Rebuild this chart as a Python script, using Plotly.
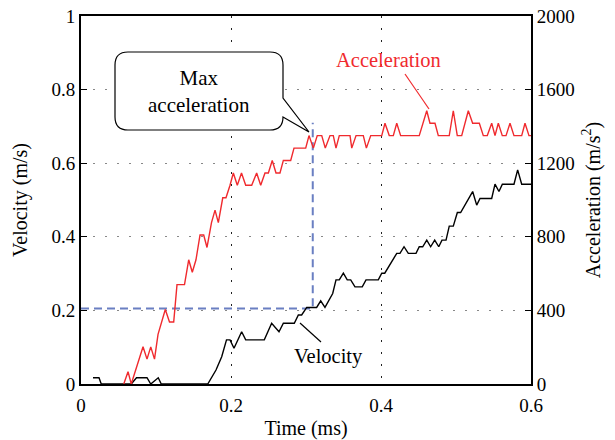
import plotly.graph_objects as go

# ---------------- data ----------------
acc_time = [0.057, 0.0627, 0.067, 0.078, 0.0827, 0.088, 0.093, 0.098, 0.1027, 0.1124, 0.118, 0.1236,
            0.128, 0.138, 0.1436, 0.1484, 0.1533, 0.1587, 0.1636, 0.168, 0.174, 0.1787, 0.1831, 0.189,
            0.1933, 0.1987, 0.2031, 0.2084, 0.214, 0.2196, 0.2276, 0.2342, 0.2396, 0.2453, 0.2498, 0.255,
            0.26, 0.2653, 0.2698, 0.2796, 0.284, 0.2996, 0.304, 0.3098, 0.315, 0.321, 0.3257, 0.332,
            0.3364, 0.34, 0.3444, 0.3587, 0.361, 0.3667, 0.3764, 0.3805, 0.3863, 0.401, 0.4053, 0.411,
            0.4164, 0.421, 0.4262, 0.451, 0.461, 0.4653, 0.472, 0.4764, 0.491, 0.4964, 0.5017, 0.5076,
            0.5164, 0.5222, 0.5311, 0.5364, 0.5417, 0.5476, 0.552, 0.5564, 0.5617, 0.5667, 0.572, 0.5773,
            0.5876, 0.592, 0.5973, 0.6]
acc_vals = [0, 67, 0, 135, 202, 135, 202, 135, 270, 405, 337, 337,
            540, 540, 675, 607, 675, 810, 810, 742, 877, 945, 877, 1012,
            1012, 1080, 1147, 1080, 1147, 1080, 1080, 1147, 1080, 1147, 1147, 1215,
            1147, 1147, 1215, 1215, 1282, 1282, 1350, 1282, 1350, 1350, 1282, 1350,
            1350, 1282, 1350, 1350, 1282, 1350, 1350, 1282, 1350, 1350, 1417, 1350,
            1350, 1417, 1350, 1350, 1485, 1417, 1417, 1350, 1350, 1485, 1350, 1350,
            1485, 1417, 1417, 1350, 1350, 1417, 1350, 1417, 1350, 1350, 1417, 1350,
            1350, 1417, 1350, 1350]

vel_time = [0.016, 0.024, 0.027, 0.067, 0.074, 0.088, 0.093, 0.103, 0.107, 0.169, 0.18, 0.1876,
            0.194, 0.1987, 0.204, 0.2142, 0.2196, 0.2444, 0.2542, 0.264, 0.2698, 0.2844, 0.2898, 0.2942,
            0.301, 0.3142, 0.3196, 0.3253, 0.3356, 0.340, 0.3444, 0.3498, 0.355, 0.3596, 0.3653, 0.375,
            0.380, 0.3964, 0.401, 0.405, 0.421, 0.4253, 0.4307, 0.4364, 0.4467, 0.451, 0.4556, 0.461,
            0.4662, 0.4716, 0.477, 0.4813, 0.4867, 0.491, 0.4964, 0.5018, 0.5062, 0.5222, 0.5276, 0.532,
            0.5476, 0.552, 0.5573, 0.5618, 0.5773, 0.5822, 0.5876, 0.6]
vel_vals = [0.017, 0.017, 0, 0, 0.017, 0.017, 0, 0.017, 0, 0, 0.038, 0.074,
            0.12, 0.12, 0.097, 0.142, 0.12, 0.12, 0.165, 0.142, 0.165, 0.165, 0.1875, 0.1875,
            0.208, 0.208, 0.226, 0.208, 0.246, 0.283, 0.283, 0.301, 0.283, 0.283, 0.264, 0.264,
            0.283, 0.283, 0.301, 0.301, 0.355, 0.355, 0.373, 0.355, 0.355, 0.373, 0.373, 0.391,
            0.373, 0.391, 0.373, 0.391, 0.391, 0.429, 0.429, 0.466, 0.466, 0.523, 0.486, 0.504,
            0.504, 0.543, 0.523, 0.543, 0.543, 0.582, 0.543, 0.543]

max_acc_time = 0.309      # time of max acceleration marker (ms)
max_acc_vel = 0.205       # velocity at that time (m/s)
marker_top_vel = 0.71     # top of vertical dashed marker

x_ticks = [0, 0.2, 0.4, 0.6]
x_tick_labels = ["0", "0.2", "0.4", "0.6"]
v_ticks = [0, 0.2, 0.4, 0.6, 0.8, 1.0]
v_tick_labels = ["0", "0.2", "0.4", "0.6", "0.8", "1"]
a_ticks = [0, 400, 800, 1200, 1600, 2000]
a_tick_labels = ["0", "400", "800", "1200", "1600", "2000"]

# ---------------- layout geometry ----------------
W, H = 615, 440
ML, MR, MT, MB = 81, 84, 16, 56
PW = W - ML - MR
PH = H - MT - MB
X_RANGE = [0, 0.6]
V_RANGE = [0, 1]
A_RANGE = [0, 2000]


def tx(px):
    return X_RANGE[0] + (px - ML) / PW * (X_RANGE[1] - X_RANGE[0])


def vy(py):
    return V_RANGE[0] + (MT + PH - py) / PH * (V_RANGE[1] - V_RANGE[0])


FONT = "Liberation Serif"
RED = "#f02a2e"
BLUE = "#6a7fc2"

fig = go.Figure()

# dashed max-acceleration marker
fig.add_trace(go.Scatter(
    x=[X_RANGE[0], max_acc_time, max_acc_time],
    y=[max_acc_vel, max_acc_vel, marker_top_vel],
    mode="lines", line=dict(color=BLUE, width=2, dash="8px,5px"),
    hoverinfo="skip", showlegend=False, yaxis="y"))

fig.add_trace(go.Scatter(x=acc_time, y=acc_vals, mode="lines",
                         line=dict(color=RED, width=1.4), yaxis="y2",
                         name="Acceleration", showlegend=False))
fig.add_trace(go.Scatter(x=vel_time, y=vel_vals, mode="lines",
                         line=dict(color="black", width=1.4), yaxis="y",
                         name="Velocity", showlegend=False))

# callout bubble (rounded rectangle with tail), built in pixel space
bx0, bx1, by0, by1, r = 115, 283, 52, 130, 13
tail_a, tail_b, tip = 98, 117, (309, 132)
path = (
    f"M {tx(bx0 + r)},{vy(by0)} "
    f"L {tx(bx1 - r)},{vy(by0)} "
    f"Q {tx(bx1)},{vy(by0)} {tx(bx1)},{vy(by0 + r)} "
    f"L {tx(bx1)},{vy(tail_a)} "
    f"L {tx(tip[0])},{vy(tip[1])} "
    f"L {tx(bx1)},{vy(tail_b)} "
    f"L {tx(bx1)},{vy(by1 - r)} "
    f"Q {tx(bx1)},{vy(by1)} {tx(bx1 - r)},{vy(by1)} "
    f"L {tx(bx0 + r)},{vy(by1)} "
    f"Q {tx(bx0)},{vy(by1)} {tx(bx0)},{vy(by1 - r)} "
    f"L {tx(bx0)},{vy(by0 + r)} "
    f"Q {tx(bx0)},{vy(by0)} {tx(bx0 + r)},{vy(by0)} Z"
)
fig.add_shape(type="path", path=path, xref="x", yref="y",
              line=dict(color="black", width=1.2), fillcolor="white", layer="above")

fig.add_annotation(x=tx((bx0 + bx1) / 2), y=vy((by0 + by1) / 2), xref="x", yref="y",
                   text="Max<br>acceleration", showarrow=False,
                   font=dict(family=FONT, size=21, color="black"), align="center")

# leader lines
fig.add_shape(type="line", xref="x", yref="y", x0=tx(405), y0=vy(74), x1=tx(429), y1=vy(109),
              line=dict(color=RED, width=1.2))
fig.add_shape(type="line", xref="x", yref="y", x0=tx(300), y0=vy(323), x1=tx(321), y1=vy(342),
              line=dict(color="black", width=1.2))

fig.add_annotation(x=tx(388), y=vy(60), xref="x", yref="y", text="Acceleration",
                   showarrow=False, font=dict(family=FONT, size=20.5, color=RED))
fig.add_annotation(x=tx(328), y=vy(356), xref="x", yref="y", text="Velocity",
                   showarrow=False, font=dict(family=FONT, size=20.5, color="black"))

fig.update_layout(
    width=W, height=H,
    margin=dict(l=ML, r=MR, t=MT, b=MB, autoexpand=False),
    paper_bgcolor="white", plot_bgcolor="white",
    font=dict(family=FONT, size=19, color="black"),
    xaxis=dict(range=X_RANGE, tickvals=x_ticks, ticktext=x_tick_labels, automargin=False,
               showgrid=True, gridcolor="#222", gridwidth=1, griddash="2px,10px",
               showline=True, linecolor="black", linewidth=2, mirror=True,
               ticks="", zeroline=False, ticklabelstandoff=3,
               title=dict(text="Time (ms)", standoff=6, font=dict(family=FONT, size=20))),
    yaxis=dict(range=V_RANGE, tickvals=v_ticks, ticktext=v_tick_labels, automargin=False,
               showgrid=True, gridcolor="#888", gridwidth=1, griddash="2px,10px",
               showline=True, linecolor="black", linewidth=2,
               ticks="inside", ticklen=6, tickcolor="black", zeroline=False,
               title=dict(text="Velocity (m/s)", standoff=18, font=dict(family=FONT, size=20))),
    yaxis2=dict(range=A_RANGE, tickvals=a_ticks, ticktext=a_tick_labels, automargin=False,
                overlaying="y", side="right", showgrid=False,
                showline=True, linecolor="black", linewidth=2,
                ticks="inside", ticklen=6, tickcolor="black", zeroline=False,
                title=dict(text="Acceleration (m/s<sup>2</sup>)", standoff=12,
                           font=dict(family=FONT, size=20))),
    showlegend=False,
)

fig.write_html("out.html")
